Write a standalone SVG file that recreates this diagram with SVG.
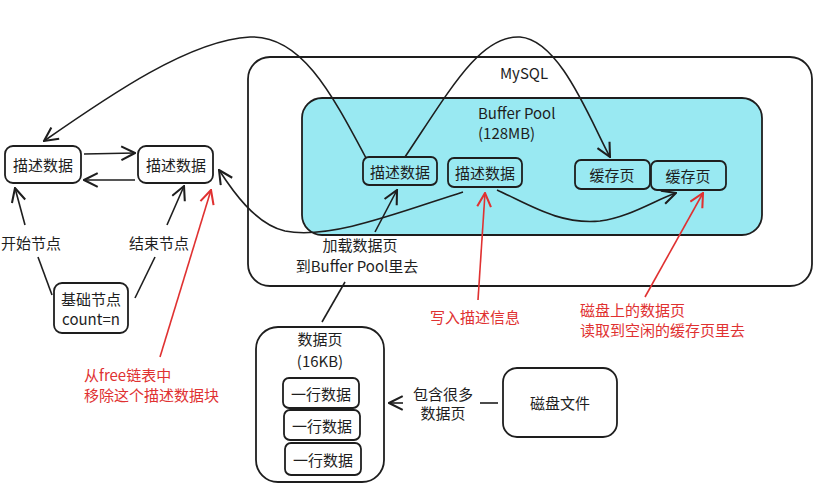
<svg xmlns="http://www.w3.org/2000/svg" width="820" height="502" viewBox="0 0 820 502">
<defs>
<style>
.box{fill:#fff;stroke:#1e1e1e;stroke-width:1.8}
.t{font-family:"Noto Sans CJK SC","Liberation Sans",sans-serif;font-size:15px;fill:#1e1e1e}
.r{font-family:"Noto Sans CJK SC","Liberation Sans",sans-serif;font-size:15px;fill:#e03131}
.c{text-anchor:middle;dominant-baseline:central}
.ln{fill:none;stroke:#1e1e1e;stroke-width:1.6}
.rl{fill:none;stroke:#e03131;stroke-width:1.6}
.cy{fill:#99e9f2;stroke:#1e1e1e;stroke-width:1.8}
</style>
<marker id="a" viewBox="0 0 14 14" refX="13" refY="7" markerWidth="16" markerHeight="16" markerUnits="userSpaceOnUse" orient="auto"><path d="M1,1 L13,7 L1,13" fill="none" stroke="#1e1e1e" stroke-width="1.8"/></marker>
<marker id="ar" viewBox="0 0 14 14" refX="13" refY="7" markerWidth="16" markerHeight="16" markerUnits="userSpaceOnUse" orient="auto"><path d="M1,1 L13,7 L1,13" fill="none" stroke="#e03131" stroke-width="1.8"/></marker>
</defs>
<rect width="820" height="502" fill="#fff"/>

<g id="mysql">
<rect x="248" y="57" width="564" height="229" rx="22" class="box"/>
<text x="524" y="72" class="t c">MySQL</text>
</g>
<g id="bufferpool">
<rect x="302" y="98" width="460" height="137" rx="20" class="cy"/>
<text x="478" y="112" class="t" dominant-baseline="central" font-size="16">Buffer Pool</text>
<text x="478" y="132" class="t" dominant-baseline="central" font-size="16">(128MB)</text>
</g>
<g id="bp-desc1"><rect x="363" y="157" width="74" height="28" rx="6" class="cy"/><text x="400" y="171" class="t c">描述数据</text></g>
<g id="bp-desc2"><rect x="448" y="158" width="74" height="29" rx="6" class="cy"/><text x="485" y="172" class="t c">描述数据</text></g>
<g id="cache1"><rect x="575" y="160" width="75" height="29" rx="6" class="cy"/><text x="612" y="174" class="t c">缓存页</text></g>
<g id="cache2"><rect x="651" y="161" width="75" height="29" rx="6" class="cy"/><text x="688" y="175" class="t c">缓存页</text></g>

<g id="desc-left"><rect x="5" y="146" width="76" height="37" rx="8" class="box"/><text x="43" y="164" class="t c">描述数据</text></g>
<g id="desc-right"><rect x="138" y="146" width="75" height="37" rx="8" class="box"/><text x="176" y="164" class="t c">描述数据</text></g>
<g id="base"><rect x="54" y="283" width="74" height="50" rx="8" class="box"/><text x="91" y="298" class="t c">基础节点</text><text x="91" y="318" class="t c">count=n</text></g>

<g id="datapage"><rect x="256" y="327" width="128" height="155" rx="22" class="box"/>
<text x="320" y="338" class="t c" font-size="16">数据页</text><text x="320" y="360" class="t c" font-size="16">(16KB)</text></g>
<g id="row1"><rect x="283" y="378" width="76" height="30" rx="6" class="box"/><text x="321" y="393" class="t c">一行数据</text></g>
<g id="row2"><rect x="284" y="410" width="76" height="30" rx="6" class="box"/><text x="322" y="425" class="t c">一行数据</text></g>
<g id="row3"><rect x="285" y="443" width="76" height="32" rx="6" class="box"/><text x="323" y="459" class="t c">一行数据</text></g>
<g id="disk"><rect x="503" y="368" width="114" height="69" rx="14" class="box"/><text x="560" y="402" class="t c">磁盘文件</text></g>

<g id="connectors">
<path class="ln" d="M366,158 C 330,90 300,35 250,37 C 190,40 110,95 44,141" marker-end="url(#a)"/>
<path class="ln" d="M405,157 C 450,90 480,35 520,37 C 560,40 590,120 610,157" marker-end="url(#a)"/>
<path class="ln" d="M463,192 C 400,212 330,240 285,231 C 255,224 232,190 219,170" marker-end="url(#a)"/>
<path class="ln" d="M497,190 C 530,205 560,225 600,221 C 630,217 655,200 676,193" marker-end="url(#a)"/>
<path class="ln" d="M84,154 L135,153" marker-end="url(#a)"/>
<path class="ln" d="M135,180 L84,180" marker-end="url(#a)"/>
<path class="ln" d="M52,295 L38,257"/>
<path class="ln" d="M25,225 L15,188" marker-end="url(#a)"/>
<text x="31" y="242" class="t c">开始节点</text>
<path class="ln" d="M135,298 L155,257"/>
<path class="ln" d="M167,225 L184,186" marker-end="url(#a)"/>
<text x="159" y="242" class="t c">结束节点</text>
<path class="ln" d="M322,322 L345,282"/>
<path class="ln" d="M375,232 L397,190" marker-end="url(#a)"/>
<text x="360" y="244" class="t c">加载数据页</text>
<text x="357" y="265" class="t c">到Buffer Pool里去</text>
<path class="ln" d="M498,403 L480,403"/>
<path class="ln" d="M403,403 L389,403" marker-end="url(#a)"/>
<text x="443" y="393" class="t c">包含很多</text>
<text x="443" y="412" class="t c">数据页</text>
<path class="rl" d="M160,357 L211,190" marker-end="url(#ar)"/>
<path class="rl" d="M478,300 L485,193" marker-end="url(#ar)"/>
<path class="rl" d="M645,297 L703,193" marker-end="url(#ar)"/>
</g>
<g id="notes">
<text x="84" y="374" class="r" dominant-baseline="central">从free链表中</text>
<text x="84" y="394" class="r" dominant-baseline="central">移除这个描述数据块</text>
<text x="475" y="316" class="r c">写入描述信息</text>
<text x="580" y="309" class="r" dominant-baseline="central">磁盘上的数据页</text>
<text x="580" y="329" class="r" dominant-baseline="central">读取到空闲的缓存页里去</text>
</g>
</svg>
